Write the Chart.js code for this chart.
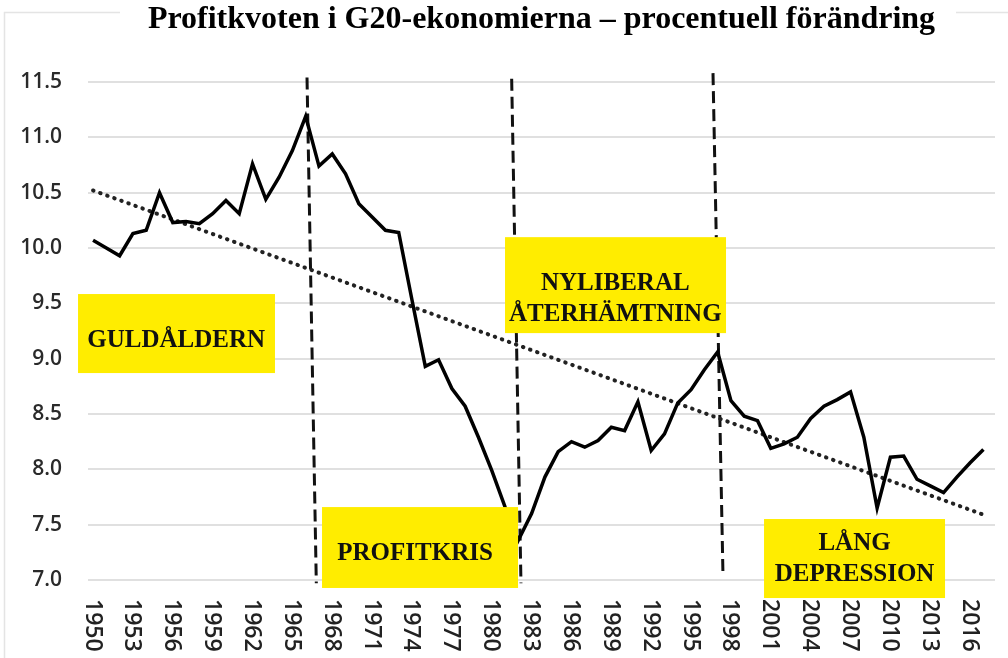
<!DOCTYPE html>
<html>
<head>
<meta charset="utf-8">
<script src="https://cdn.jsdelivr.net/npm/chart.js@4.4.1/dist/chart.umd.min.js"></script>
<style>
  html, body { margin: 0; padding: 0; background: #fff; }
</style>
</head>
<body>
<canvas id="grafico" width="1008" height="658"></canvas>
<script>
// profitkvot per år
const ar = [
  1950, 1951, 1952, 1953, 1954, 1955, 1956, 1957, 1958, 1959,
  1960, 1961, 1962, 1963, 1964, 1965, 1966, 1967, 1968, 1969,
  1970, 1971, 1972, 1973, 1974, 1975, 1976, 1977, 1978, 1979,
  1980, 1981, 1982, 1983, 1984, 1985, 1986, 1987, 1988, 1989,
  1990, 1991, 1992, 1993, 1994, 1995, 1996, 1997, 1998, 1999,
  2000, 2001, 2002, 2003, 2004, 2005, 2006, 2007, 2008, 2009,
  2010, 2011, 2012, 2013, 2014, 2015, 2016, 2017
];
const profitkvot = [
  10.07, 10.0, 9.93, 10.13, 10.16, 10.5, 10.23, 10.24, 10.22, 10.31,
  10.43, 10.31, 10.76, 10.44, 10.64, 10.88, 11.19, 10.74, 10.85, 10.67,
  10.4, 10.28, 10.16, 10.14, 9.53, 8.93, 8.99, 8.73, 8.57, 8.29,
  7.99, 7.66, 7.36, 7.6, 7.93, 8.16, 8.25, 8.2, 8.26, 8.38,
  8.35, 8.61, 8.17, 8.32, 8.6, 8.72, 8.9, 9.06, 8.62, 8.48,
  8.44, 8.19, 8.23, 8.29, 8.46, 8.57, 8.63, 8.7, 8.29, 7.65,
  8.11, 8.12, 7.91, 7.85, 7.79, 7.93, 8.06, 8.18
];

// linjär trend (prickad)
const trendAr = [1950, 2017];
const trendVarde = [10.52, 7.59];

// streckade gränser mellan perioderna (topp och botten)
const gransArTopp = [1966.1, 1981.5, 1996.65];
const gransArBotten = [1966.8, 1982.2, 1997.4];
const gransTopp = [11.54, 11.53, 11.58];
const gransBotten = [6.97, 6.97, 7.05];

const tickAr = [1950, 1953, 1956, 1959, 1962, 1965, 1968, 1971, 1974, 1977, 1980,
  1983, 1986, 1989, 1992, 1995, 1998, 2001, 2004, 2007, 2010, 2013, 2016];

const etiketter = [
  ["GULDÅLDERN"],
  ["PROFITKRIS"],
  ["NYLIBERAL", "ÅTERHÄMTNING"],
  ["LÅNG", "DEPRESSION"]
];

// rutornas läge i diagrammets enheter (år / värde)
const rutor = [
  { x0: 1948.87, x1: 1963.69, y0: 9.584, y1: 8.87, tx: 1956.25, ty: 9.105 },
  { x0: 1967.23, x1: 1981.98, y0: 7.659, y1: 6.928, tx: 1974.23, ty: 7.181 },
  { x0: 1981.0, x1: 1997.63, y0: 10.098, y1: 9.231, tx: 1989.3, ty: 9.62 },
  { x0: 2000.49, x1: 2014.11, y0: 7.551, y1: 6.837, tx: 2007.3, ty: 7.271 }
];

const gransSets = gransArTopp.map((a, i) => ({
  data: [{ x: a, y: gransTopp[i] }, { x: gransArBotten[i], y: gransBotten[i] }],
  borderColor: "#111",
  borderWidth: 3,
  borderDash: [12, 6],
  pointRadius: 0,
  clip: false,
}));

const ramPlugin = {
  id: "ram",
  beforeDraw(chart) {
    const ctx = chart.ctx;
    ctx.save();
    ctx.fillStyle = "#fff";
    ctx.fillRect(0, 0, chart.width, chart.height);
    ctx.strokeStyle = "#e4e4e4";
    ctx.lineWidth = 1.5;
    ctx.strokeRect(4.5, 12.5, 1100, 700);
    ctx.fillStyle = "#fff";
    ctx.fillRect(120, 0, 836, 42);
    ctx.restore();
  },
};

const xEtiketter = {
  id: "xEtiketter",
  afterDraw(chart) {
    const ctx = chart.ctx;
    const xs = chart.scales.x;
    ctx.save();
    ctx.fillStyle = "#222";
    ctx.font = "600 23px 'Open Sans'";
    ctx.textAlign = "left";
    ctx.textBaseline = "middle";
    xs.ticks.forEach((t) => {
      const px = xs.getPixelForValue(t.value);
      ctx.save();
      ctx.translate(px, chart.chartArea.bottom + 19);
      ctx.rotate(Math.PI / 2);
      ctx.fillText(String(t.value), 0, 1);
      ctx.restore();
    });
    ctx.restore();
  },
};

const rutPlugin = {
  id: "rutor",
  afterDatasetsDraw(chart) {
    const ctx = chart.ctx;
    const xs = chart.scales.x;
    const ys = chart.scales.y;
    ctx.save();
    rutor.forEach((r, i) => {
      const x0 = xs.getPixelForValue(r.x0);
      const x1 = xs.getPixelForValue(r.x1);
      const y0 = ys.getPixelForValue(r.y0);
      const y1 = ys.getPixelForValue(r.y1);
      ctx.fillStyle = "#ffed00";
      ctx.fillRect(x0, y0, x1 - x0, y1 - y0);
      ctx.fillStyle = "#111";
      ctx.font = "bold 25px 'Liberation Serif'";
      ctx.textAlign = "center";
      ctx.textBaseline = "alphabetic";
      const tx = xs.getPixelForValue(r.tx);
      const ty = ys.getPixelForValue(r.ty);
      etiketter[i].forEach((rad, j) => {
        ctx.fillText(rad, tx, ty + j * 31);
      });
    });
    ctx.restore();
  },
};

new Chart(document.getElementById("grafico"), {
  type: "line",
  data: {
    datasets: [
      {
        data: ar.map((a, i) => ({ x: a, y: profitkvot[i] })),
        borderColor: "#000",
        borderWidth: 3.5,
        pointRadius: 0,
        tension: 0,
      },
      {
        data: trendAr.map((a, i) => ({ x: a, y: trendVarde[i] })),
        borderColor: "#222",
        borderWidth: 4,
        borderDash: [0.5, 7],
        borderCapStyle: "round",
        pointRadius: 0,
      },
      ...gransSets,
    ],
  },
  options: {
    responsive: false,
    animation: false,
    layout: { padding: { left: 0, right: 13, top: 0, bottom: 0 } },
    plugins: {
      legend: { display: false },
      tooltip: { enabled: false },
      title: {
        display: true,
        fullSize: false,
        text: "Profitkvoten i G20-ekonomierna – procentuell förändring",
        color: "#000",
        font: { family: "'Liberation Serif'", size: 32, weight: "bold" },
        padding: { top: 1, bottom: 42.6 },
      },
    },
    scales: {
      x: {
        type: "linear",
        min: 1949.62,
        max: 2017.87,
        afterBuildTicks: (axis) => {
          axis.ticks = tickAr.map((v) => ({ value: v }));
        },
        afterFit: (axis) => {
          axis.height = 78;
        },
        ticks: { display: false },
        grid: { display: false },
        border: { display: false },
      },
      y: {
        min: 7,
        max: 11.5,
        afterFit: (axis) => {
          axis.width = 88;
        },
        ticks: {
          stepSize: 0.5,
          padding: 26,
          color: "#2a2a2a",
          font: { family: "'Open Sans'", size: 21, weight: "600" },
          callback: (v) => v.toFixed(1),
        },
        grid: { color: "#e0e0e0", lineWidth: 2, drawTicks: false },
        border: { display: false },
      },
    },
  },
  plugins: [ramPlugin, xEtiketter, rutPlugin],
});
</script>
</body>
</html>
